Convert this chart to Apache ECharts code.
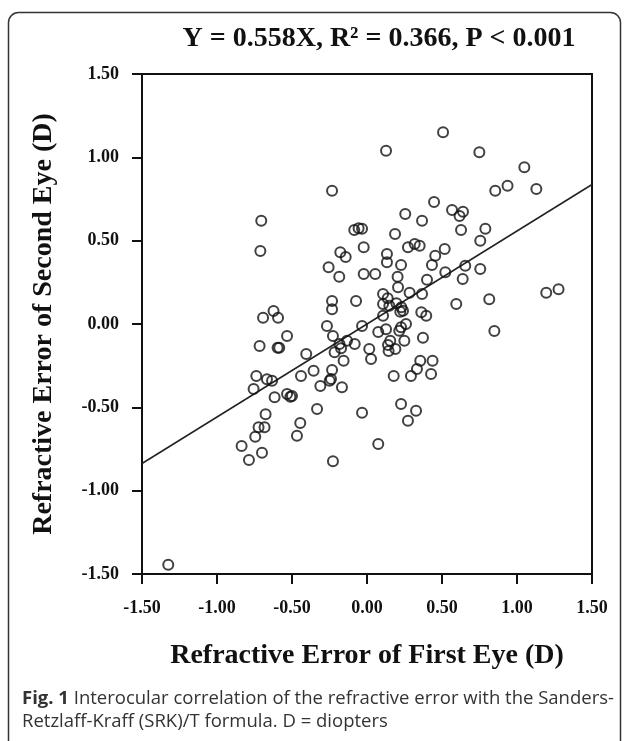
<!DOCTYPE html>
<html>
<head>
<meta charset="utf-8">
<script src="https://cdn.jsdelivr.net/npm/echarts@6/dist/echarts.min.js"></script>
<style>
  html, body { margin: 0; padding: 0; background: #fff; }
  #chart { width: 627px; height: 741px; }
</style>
</head>
<body>
<div id="chart"></div>
<script>
// refractive error of first eye (x) and second eye (y), in diopters
var firstEye = [
  -0.705, -0.711, 0.507, 0.127, -0.233, 0.447, 0.567, 0.640, 0.617, 0.255,
  0.367, -0.085, -0.056, -0.033, 0.187, -0.022, 0.273, 0.318, 0.351, 0.518,
  0.455, -0.178, -0.142, 0.133, 0.133, 0.433, 0.522, -0.256, 0.227, -0.185,
  -0.022, 0.055, 0.204, 0.400, 0.749, 1.049, 0.937, 0.855, 1.129, 0.627,
  0.789, 0.755, 0.655, 0.755, 0.638, -0.623, -0.693, -0.593, -0.533, -0.716,
  -0.596, -0.585, -0.738, -0.667, -0.633, -0.756, -0.616, -0.533, -0.511, -0.500,
  -0.440, -0.676, -0.723, -0.683, -0.745, -0.445, -0.467, 0.207, 0.284, 0.367,
  0.107, 0.138, 0.107, 0.149, 0.196, 0.229, 0.240, 0.222, -0.233, -0.233,
  -0.073, 0.107, 0.362, 0.395, -0.267, -0.033, 0.260, 0.227, 0.215, 0.127,
  0.075, -0.227, -0.133, -0.183, -0.173, -0.082, 0.155, 0.140, 0.249, 0.189,
  0.144, 0.015, 0.027, 0.373, -0.216, -0.405, -0.156, 0.355, 0.437, 0.333,
  0.427, 0.293, 0.178, -0.356, -0.233, -0.240, -0.249, -0.311, -0.167, -0.333,
  -0.033, 0.227, 0.327, 0.273, 0.075, 0.595, 0.815, 1.195, 1.277, 0.849,
  -0.836, -0.700, -0.787, -0.227, -1.325
];
var secondEye = [
  0.620, 0.438, 1.150, 1.040, 0.800, 0.732, 0.684, 0.674, 0.648, 0.660,
  0.620, 0.564, 0.574, 0.572, 0.540, 0.460, 0.460, 0.480, 0.470, 0.450,
  0.410, 0.430, 0.402, 0.420, 0.370, 0.354, 0.310, 0.340, 0.354, 0.284,
  0.300, 0.300, 0.284, 0.265, 1.030, 0.940, 0.830, 0.800, 0.810, 0.564,
  0.572, 0.500, 0.350, 0.330, 0.270, 0.078, 0.038, 0.038, -0.072, -0.132,
  -0.142, -0.142, -0.312, -0.332, -0.340, -0.390, -0.440, -0.420, -0.436, -0.432,
  -0.312, -0.542, -0.620, -0.620, -0.676, -0.594, -0.670, 0.220, 0.188, 0.180,
  0.180, 0.154, 0.120, 0.110, 0.124, 0.100, 0.080, 0.074, 0.138, 0.088,
  0.138, 0.050, 0.070, 0.050, -0.012, -0.012, 0.000, -0.020, -0.040, -0.032,
  -0.048, -0.072, -0.100, -0.120, -0.146, -0.120, -0.100, -0.126, -0.100, -0.150,
  -0.162, -0.150, -0.210, -0.082, -0.170, -0.180, -0.220, -0.220, -0.220, -0.270,
  -0.300, -0.312, -0.312, -0.280, -0.276, -0.330, -0.340, -0.372, -0.380, -0.510,
  -0.532, -0.480, -0.520, -0.580, -0.720, 0.120, 0.148, 0.188, 0.208, -0.042,
  -0.732, -0.772, -0.816, -0.824, -1.444
];
var tickLabels = ['-1.50', '-1.00', '-0.50', '0.00', '0.50', '1.00', '1.50'];
var slope = 0.558;
var axisMin = -1.5, axisMax = 1.5;

var points = firstEye.map(function (x, i) { return [x, secondEye[i]]; });
var fitLine = [[axisMin, slope * axisMin], [axisMax, slope * axisMax]];

var serif = '"Liberation Serif", "DejaVu Serif", serif';
var sans = '"Open Sans", "Noto Sans", sans-serif';

var myChart = echarts.init(document.getElementById('chart'));
var option = {
  backgroundColor: '#fff',
  animation: false,
  title: {
    text: 'Y = 0.558X, R² = 0.366, P < 0.001',
    left: 374,
    top: 20,
    textAlign: 'center',
    textStyle: { fontFamily: serif, fontWeight: 'bold', fontSize: 28, color: '#111' }
  },
  grid: {
    left: 142, right: 35, top: 74, bottom: 167,
    show: true, borderColor: '#111', borderWidth: 2, backgroundColor: 'transparent'
  },
  xAxis: {
    type: 'value',
    min: axisMin, max: axisMax, interval: 0.5,
    name: 'Refractive Error of First Eye (D)',
    nameLocation: 'middle',
    nameGap: 68,
    nameTextStyle: { fontFamily: serif, fontWeight: 'bold', fontSize: 28, color: '#111' },
    axisLine: { onZero: false, lineStyle: { color: '#111', width: 2 } },
    axisTick: { show: true, length: 10, lineStyle: { color: '#111', width: 2 } },
    splitLine: { show: false },
    axisLabel: {
      margin: 25,
      fontFamily: serif, fontWeight: 'bold', fontSize: 18, color: '#111',
      formatter: function (v) { return tickLabels[Math.round((v - axisMin) / 0.5)]; }
    }
  },
  yAxis: {
    type: 'value',
    min: axisMin, max: axisMax, interval: 0.5,
    name: 'Refractive Error of Second Eye (D)',
    nameLocation: 'middle',
    nameGap: 84,
    nameTextStyle: { fontFamily: serif, fontWeight: 'bold', fontSize: 28, color: '#111' },
    axisLine: { onZero: false, lineStyle: { color: '#111', width: 2 } },
    axisTick: { show: true, length: 10, lineStyle: { color: '#111', width: 2 } },
    splitLine: { show: false },
    axisLabel: {
      margin: 23,
      fontFamily: serif, fontWeight: 'bold', fontSize: 18, color: '#111',
      formatter: function (v) { return tickLabels[Math.round((v - axisMin) / 0.5)]; }
    }
  },
  series: [
    {
      type: 'line',
      data: fitLine,
      symbol: 'none',
      silent: true,
      lineStyle: { color: '#222', width: 1.5 },
      z: 1
    },
    {
      type: 'scatter',
      data: points,
      symbol: 'circle',
      symbolSize: 10,
      itemStyle: { color: 'rgba(0,0,0,0)', borderColor: '#111', borderWidth: 2 },
      z: 2
    }
  ],
  graphic: [
    {
      type: 'rect',
      shape: { x: 8.5, y: 12.5, width: 612, height: 760, r: 10 },
      style: { fill: 'none', stroke: '#333', lineWidth: 1.5 },
      silent: true
    },
    {
      type: 'text',
      left: 22,
      top: 687,
      style: {
        text: '{b|Fig. 1} Interocular correlation of the refractive error with the Sanders-\nRetzlaff-Kraff (SRK)/T formula. D = diopters',
        fontFamily: sans,
        fontSize: 18.5,
        lineHeight: 23,
        fill: '#333',
        rich: {
          b: { fontFamily: sans, fontSize: 18.5, fontWeight: 'bold', fill: '#333' }
        }
      }
    }
  ]
};
myChart.setOption(option);
</script>
</body>
</html>
